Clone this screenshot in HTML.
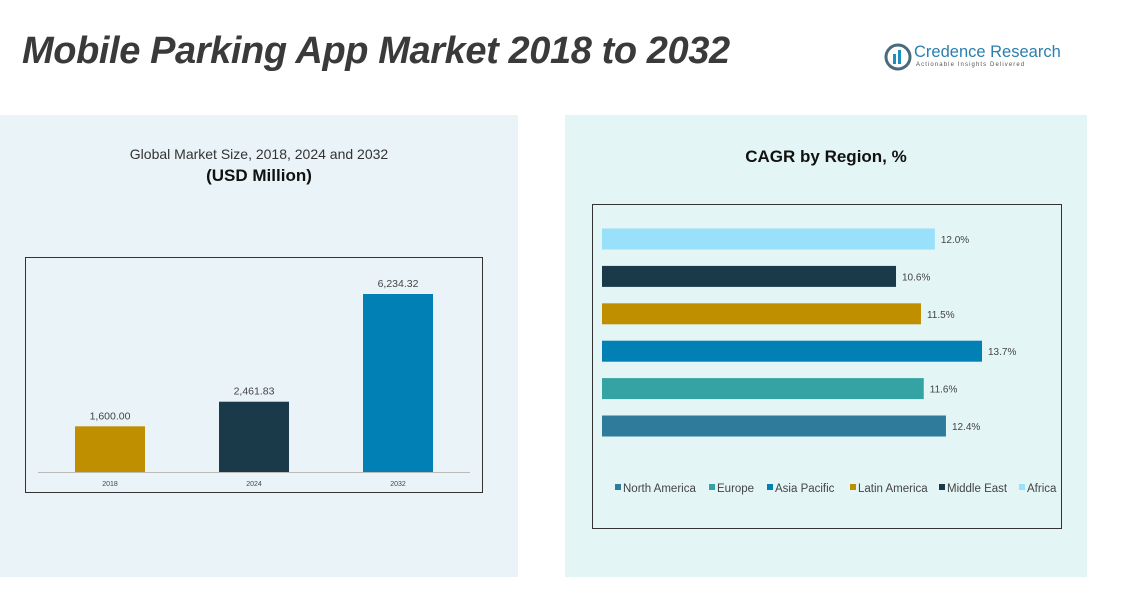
<!DOCTYPE html>
<html><head><meta charset="utf-8"><style>
body{margin:0;width:1132px;height:592px;background:#fff;position:relative;overflow:hidden;font-family:"Liberation Sans",sans-serif}
.abs{position:absolute}
</style></head><body>
<div class="abs" style="left:0;top:115px;width:518px;height:462px;background:#eaf4f8"></div>
<div class="abs" style="left:565px;top:115px;width:522px;height:462px;background:#e3f5f5"></div>
<div class="abs" style="left:22px;top:30px;font-size:38px;font-weight:bold;font-style:italic;color:#3a3a3a;letter-spacing:-0.4px">Mobile Parking App Market 2018 to 2032</div>
<div class="abs" style="left:884px;top:42px;width:180px;height:30px">
 <svg width="30" height="30" style="position:absolute;left:0;top:0"><circle cx="14" cy="15" r="12" fill="none" stroke="#4a6b7c" stroke-width="3"/><rect x="9" y="12" width="3" height="10" fill="#1a8fc0"/><rect x="14" y="8" width="3" height="14" fill="#1a8fc0"/></svg>
 <div class="abs" style="left:30px;top:1px;font-size:16.5px;color:#2a7fb0;white-space:nowrap">Credence Research</div>
 <div class="abs" style="left:32px;top:20px;font-size:6px;color:#555;letter-spacing:1.1px;white-space:nowrap">Actionable Insights Delivered</div>
</div>
<div class="abs" style="left:0;width:518px;top:146px;text-align:center;font-size:14px;color:#333">Global Market Size, 2018, 2024 and 2032</div>
<div class="abs" style="left:0;width:518px;top:166px;text-align:center;font-size:17px;font-weight:bold;color:#111">(USD Million)</div>
<div class="abs" style="left:565px;width:522px;top:147px;text-align:center;font-size:17px;font-weight:bold;color:#111">CAGR by Region, %</div>
<svg class="abs" style="left:0;top:0" width="1132" height="592" id="svg">
 <rect x="25.5" y="257.5" width="457" height="235" fill="none" stroke="#333"/>
 <line x1="38" y1="472.5" x2="470" y2="472.5" stroke="#bbb"/>
 <rect x="592.5" y="204.5" width="469" height="324" fill="none" stroke="#333"/>
 <g id="left"></g><g id="right"></g><g id="legend"></g>
</svg>
<script>
const years=["2018","2024","2032"];
const sizes=[1600.00,2461.83,6234.32];
const sizeLabels=["1,600.00","2,461.83","6,234.32"];
const yearColors=["#bf8f00","#1a3a4a","#0080b4"];
const regions=["Africa","Middle East","Latin America","Asia Pacific","Europe","North America"];
const cagr=[12.0,10.6,11.5,13.7,11.6,12.4];
const regionColors=["#99e0fa","#1a3a4a","#bf8f00","#0080b4","#35a3a3","#2e7b9b"];
const legendOrder=["North America","Europe","Asia Pacific","Latin America","Middle East","Africa"];
const NS="http://www.w3.org/2000/svg";
function mk(t,a,p){const e=document.createElementNS(NS,t);for(const k in a)e.setAttribute(k,a[k]);p.appendChild(e);return e;}
const yS=v=>472-v*178/6234.32;
const xB=i=>75+i*144;
const L=document.getElementById('left');
years.forEach((y,i)=>{
 const r=mk('rect',{x:xB(i),y:yS(sizes[i]),width:70,height:472-yS(sizes[i]),fill:yearColors[i]},L);
 
 
 const t=mk('text',{x:xB(i)+35,y:yS(sizes[i])-7,'text-anchor':'middle','font-size':10.5,fill:'#444'},L);t.textContent=sizeLabels[i];
 
 
 const tk=mk('text',{x:xB(i)+35,y:486,'text-anchor':'middle','font-size':7,fill:'#444'},L);tk.textContent=y;
 
 
});
const xS=v=>602+v*380/13.7;
const yR=i=>239+i*37.4;
const R=document.getElementById('right');
regions.forEach((r,i)=>{
 const b=mk('rect',{x:602,y:yR(i)-10.5,width:xS(cagr[i])-602,height:21,fill:regionColors[i]},R);
 
 
 const t=mk('text',{x:xS(cagr[i])+6,y:yR(i)+4,'font-size':10,fill:'#444'},R);t.textContent=cagr[i].toFixed(1)+'%';
 
 
});
const G=document.getElementById('legend');
const lx=[615,709,767,850,939,1019];
legendOrder.forEach((n,i)=>{
 const c=regionColors[regions.indexOf(n)];
 const s=mk('rect',{x:lx[i],y:484,width:6,height:6,fill:c},G);
 
 
 const t=mk('text',{x:lx[i]+8,y:492,'font-size':11.5,fill:'#444'},G);t.textContent=n;
 
 
});
</script>
</body></html>
